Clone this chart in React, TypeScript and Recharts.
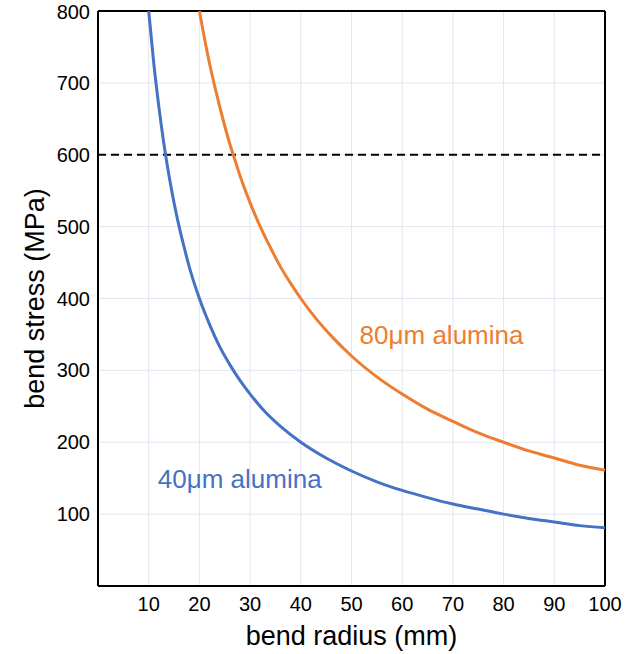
import React from 'react';
import { LineChart, Line, XAxis, YAxis, CartesianGrid, ReferenceLine, ReferenceDot } from 'recharts';

// values
const radiusTicks = [10, 20, 30, 40, 50, 60, 70, 80, 90, 100];
const stressTicks = [100, 200, 300, 400, 500, 600, 700, 800];

const blueRadius = [10, 11, 12, 13, 14, 15, 16, 17, 18, 20, 22, 24, 26, 28, 30, 33, 36, 40, 45, 50, 55, 60, 65, 70, 75, 80, 85, 90, 95, 100];
const blueStress = [800, 727, 667, 615, 571, 533, 500, 471, 444, 400, 364, 333, 308, 286, 267, 242, 222, 200, 178, 160, 145, 133, 123, 114, 107, 100, 94, 89, 84, 81];

const orangeRadius = [20, 21, 22, 23, 24, 25, 26, 27, 28, 30, 32, 34, 36, 38, 40, 43, 46, 50, 55, 60, 65, 70, 75, 80, 85, 90, 95, 100];
const orangeStress = [800, 762, 727, 696, 667, 640, 615, 593, 571, 533, 500, 471, 444, 421, 400, 372, 348, 320, 291, 267, 246, 229, 213, 200, 188, 178, 168, 161];

const failureStress = 600;

const blueData = blueRadius.map((r, i) => ({ r, stress: blueStress[i] }));
const orangeData = orangeRadius.map((r, i) => ({ r, stress: orangeStress[i] }));

const FONT = 'Arial, "Liberation Sans", Helvetica, sans-serif';
const BLUE = '#4472c4';
const ORANGE = '#ed7d31';

const seriesLabel = (text: string, color: string) => (props: any) => {
  const vb = props.viewBox || {};
  const x = (vb.x ?? 0) + (vb.width ?? 0) / 2;
  const y = (vb.y ?? 0) + (vb.height ?? 0) / 2;
  return (
    <text x={x} y={y} dy="0.355em" textAnchor="start" fill={color} fontSize={26} fontFamily={FONT}>
      {text}
    </text>
  );
};

const yTitle = (props: any) => {
  const vb = props.viewBox || {};
  const x = (vb.x ?? 0) + 44;
  const y = (vb.y ?? 0) + (vb.height ?? 0) / 2;
  return (
    <text x={x} y={y} transform={`rotate(-90, ${x}, ${y})`} textAnchor="middle" fill="#000" fontSize={27} fontFamily={FONT}>
      bend stress (MPa)
    </text>
  );
};

export default function App() {
  return (
    <div style={{ position: 'absolute', left: 0, top: 0, background: '#fff' }}>
      <LineChart width={625} height={654} margin={{ top: 11, right: 20, bottom: 0, left: 0 }}>
        <CartesianGrid stroke="#e2e6ee" strokeWidth={1} />
        <XAxis
          dataKey="r"
          type="number"
          domain={[0, 100]}
          ticks={radiusTicks}
          height={68}
          tickLine={false}
          tickMargin={5}
          axisLine={{ stroke: '#000', strokeWidth: 2 }}
          tick={{ fill: '#000', fontSize: 20, fontFamily: FONT }}
          allowDuplicatedCategory={false}
          label={{ value: 'bend radius (mm)', position: 'insideBottom', offset: 9, fill: '#000', fontSize: 27, fontFamily: FONT }}
        />
        <YAxis
          type="number"
          domain={[0, 800]}
          ticks={stressTicks}
          width={98}
          tickLine={false}
          axisLine={{ stroke: '#000', strokeWidth: 2 }}
          tick={{ fill: '#000', fontSize: 20, fontFamily: FONT }}
          label={yTitle}
        />
        <ReferenceLine y={800} stroke="#000" strokeWidth={2} />
        <ReferenceLine x={100} stroke="#000" strokeWidth={2} />
        <ReferenceLine y={failureStress} stroke="#000" strokeWidth={2} strokeDasharray="8 5" />
        <Line data={blueData} dataKey="stress" type="monotone" stroke={BLUE} strokeWidth={3} dot={false} isAnimationActive={false} />
        <Line data={orangeData} dataKey="stress" type="monotone" stroke={ORANGE} strokeWidth={3} dot={false} isAnimationActive={false} />
        <ReferenceDot x={51.6} y={350} r={0} fill="none" stroke="none" label={seriesLabel('80μm alumina', ORANGE)} />
        <ReferenceDot x={11.8} y={149} r={0} fill="none" stroke="none" label={seriesLabel('40μm alumina', BLUE)} />
      </LineChart>
    </div>
  );
}
